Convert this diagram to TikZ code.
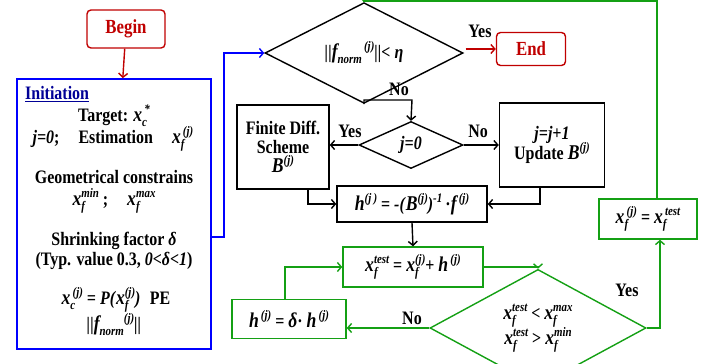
\documentclass[tikz,border=0pt]{standalone}
\usepackage{fontspec}
\setmainfont{Liberation Serif}[FakeStretch=0.84]
\usetikzlibrary{arrows.meta,shapes.geometric}
\definecolor{myred}{RGB}{192,0,0}
\definecolor{myblue}{RGB}{0,0,255}
\definecolor{navyblue}{RGB}{0,0,150}
\definecolor{mygreen}{RGB}{20,160,20}
\newcommand\bi[1]{\textbf{\textit{#1}}}
\newcommand\myscr{\fontsize{13}{13}\selectfont\bfseries\itshape}
\newcommand\myV[1]{{\fontsize{21}{21}\selectfont\bfseries\itshape #1}}
\newcommand\mySb[1]{\raisebox{-5pt}{\myscr #1}}
\newcommand\mySp[1]{\raisebox{8pt}{\myscr #1}}
\newcommand\XSS[3]{\myV{#1}\rlap{\mySb{#2}}\mySp{#3}}
\newcommand\XVS[2]{\myV{#1}\mySp{#2}}
\tikzset{
  redbox/.style={draw=myred, text=myred, rounded corners=4pt, line width=1.4pt, minimum width=78pt, minimum height=38pt, inner sep=2pt, font=\bfseries\fontsize{20}{22}\selectfont},
  blkbox/.style={draw=black, line width=1.4pt, align=center, inner sep=2pt},
  grnbox/.style={draw=mygreen, line width=1.4pt, align=center, inner sep=2pt},
  dia/.style={diamond, draw, line width=1.4pt, inner sep=0pt, align=center},
  blk/.style={draw=black, line width=1.4pt, -{Straight Barb[length=4pt,width=9pt,line width=1.4pt]}},
  grn/.style={draw=mygreen, line width=1.4pt, -{Straight Barb[length=4pt,width=9pt,line width=1.4pt]}},
  redarr/.style={draw=myred, line width=1.4pt, -{Straight Barb[length=4pt,width=9pt,line width=1.4pt]}},
  bluearr/.style={draw=myblue, line width=1.4pt, -{Straight Barb[length=4pt,width=9pt,line width=1.4pt]}},
  lbl/.style={inner sep=0pt},
  txt/.style={inner sep=0pt, align=center}
}
\begin{document}
\begin{tikzpicture}[x=1pt,y=-1pt, font=\bfseries\fontsize{19}{22}\selectfont]
\useasboundingbox (0,0) rectangle (716,364);
\clip (0,0) rectangle (716,364);
% Begin / End
\node[redbox] (begin) at (126,29) {Begin};
\node[redbox, minimum width=69pt, minimum height=33pt] (end) at (531,49) {End};
% Initiation box
\node[draw=myblue, line width=1.6pt, minimum width=194pt, minimum height=270pt, inner sep=0pt] (init) at (114,214) {};
\node[txt, text=navyblue, anchor=west] (ititle) at (25,94) {\underline{Initiation}};
\node[txt] (t1) at (114,116) {Target: \XSS{x}{c}{\,*}};
\node[txt] (t2) at (113,139) {\bi{j=0};\quad Estimation\quad \XSS{x}{f}{\,(j)}};
\node[txt] (t3) at (114,177) {Geometrical constrains};
\node[txt] (t4) at (114,201) {\XSS{x}{f}{min} ;\quad \XSS{x}{f}{max}};
\node[txt] (t5) at (114,241) {Shrinking factor \bi{δ}};
\node[txt] (t6) at (114,261) {(Typ. value 0.3, \bi{0<δ<1})};
\node[txt] (t7) at (116,300) {\XSS{x}{c}{\,(j)}\bi{ = P(}\XSS{x}{f}{(j)}\bi{)}\enspace PE};
\node[txt] (t8) at (114,325) {\bi{||}\myV{f}\mySb{norm}\mySp{(j)}\bi{||}};
% Diamond 1
\node[dia, minimum width=198pt, minimum height=68pt] (d1) at (364,53) {\bi{||}\myV{f}\mySb{norm}\mySp{\,(j)}\bi{||< η}};
% Diamond 2
\node[dia, minimum width=104pt, minimum height=47pt] (d2) at (411,145) {\bi{j=0}};
% Finite diff box
\node[blkbox, minimum width=92pt, minimum height=84pt] (fd) at (283,147) {Finite Diff.\\[-3pt] Scheme\\[-3pt] \XVS{B}{(j)}};
% j=j+1 box
\node[blkbox, minimum width=105pt, minimum height=84pt] (jj) at (552,145) {\bi{j=j+1}\\[-2pt] Update \XVS{B}{(j)}};
% h box
\node[blkbox, minimum width=150pt, minimum height=36pt] (hb) at (412,204) {\XVS{h}{(j\,)} = \bi{-(}\XVS{B}{(j)}\bi{)}\mySp{-1}\,·\XVS{f}{\,(j)}};
% test box
\node[grnbox, minimum width=140pt, minimum height=40pt] (tb) at (413,267) {\XSS{x}{f}{test} = \XSS{x}{f}{(j)}+ \XVS{h}{\,(j)}};
% xf box
\node[grnbox, minimum width=98pt, minimum height=40pt] (xb) at (648,219) {\XSS{x}{f}{\,(j)} = \XSS{x}{f}{\,test}};
% h delta box
\node[grnbox, minimum width=114pt, minimum height=39pt] (hd) at (289,319) {\XVS{h}{\,(j)} = \myV{δ}· \XVS{h}{\,(j)}};
% Diamond 3
\node[dia, draw=mygreen, minimum width=216pt, minimum height=76pt] (d3) at (538,328) {\XSS{x}{f}{test} < \XSS{x}{f}{max}\\[-1pt] \XSS{x}{f}{test} > \XSS{x}{f}{min}};
% coordinates
\coordinate (b1) at (224,237);
\coordinate (g1) at (657,1);
\coordinate (n1) at (412,100);
\coordinate (f1) at (308,204);
\coordinate (j1) at (540,204);
\coordinate (y1) at (660,328);
\coordinate (h1) at (285,267);
% connectors
\draw[redarr] (begin) -- (init);
\draw[redarr] (d1.east) ++(2,-4) coordinate (r1) (r1) -- (r1 -| end.west);
\draw[bluearr] (b1 -| init.east) -- (b1) |- (d1.west);
\draw[grn] (xb.north -| g1) -- (g1) -| (d1.north);
\draw[blk] (d1.south) |- (n1) -- (d2.north);
\draw[blk] (d2.west) -- (d2.west -| fd.east);
\draw[blk] (d2.east) -- (d2.east -| jj.west);
\draw[blk] (f1 |- fd.south) |- (hb.west);
\draw[blk] (j1 |- jj.south) |- (hb.east);
\draw[blk] (hb.south) -- (tb.north);
\draw[grn] (tb.east) -| (d3.north);
\draw[grn] (d3.east) -- (y1) -- (y1 |- xb.south);
\draw[grn] (d3.west) -- (d3.west -| hd.east);
\draw[grn] (h1 |- hd.north) |- (tb.west);
% labels
\node[lbl] (yes1) at (480,31) {Yes};
\node[lbl] (no1) at (399,89) {No};
\node[lbl] (yes2) at (350,131) {Yes};
\node[lbl] (no2) at (478,131) {No};
\node[lbl] (yes3) at (627,290) {Yes};
\node[lbl] (no3) at (412,318) {No};
\end{tikzpicture}
\end{document}
